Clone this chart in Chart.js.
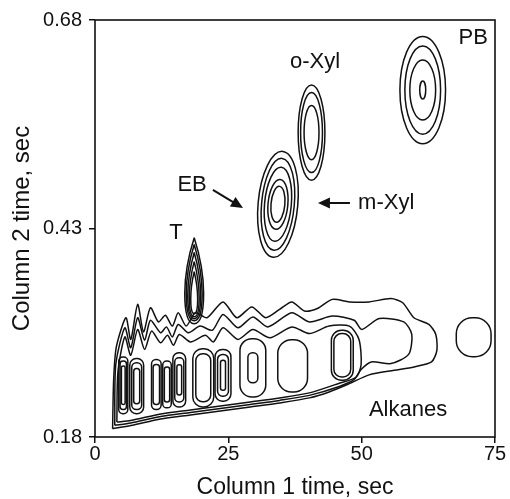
<!DOCTYPE html>
<html>
<head>
<meta charset="utf-8">
<title>Column 1 / Column 2 contour</title>
<script src="https://cdn.jsdelivr.net/npm/chart.js@4.4.1/dist/chart.umd.min.js"></script>
<style>
  html, body { margin: 0; padding: 0; background: #fff; }
  #wrap { width: 510px; height: 499px; }
</style>
</head>
<body>
<div id="wrap"><canvas id="grafico" width="510" height="499"></canvas></div>
<script>
// axis ticks
const xTicks = [0, 25, 50, 75];
const yTicks = [0.18, 0.43, 0.68];

// alkane band, outer contour (column 1 time, column 2 time)
const bandOuterX = [3.3, 3.5, 4.0, 5.8, 6.7, 8.0, 9.1, 10.4, 11.9, 13.2, 14.5, 15.6, 17.1, 18.8, 21.0, 24.0, 26.6, 29.4, 32.0, 34.6, 36.9, 39.3, 41.7, 44.5, 47.7, 51.4, 55.5, 57.7, 59.8, 62.6, 63.9, 64.1, 63.1, 59.8, 56.1, 51.4, 47.7, 43.9, 40.2, 34.6, 29.1, 23.5, 17.9, 12.3, 6.7, 3.3];
const bandOuterY = [0.190, 0.249, 0.288, 0.323, 0.297, 0.339, 0.306, 0.335, 0.318, 0.326, 0.313, 0.329, 0.313, 0.329, 0.323, 0.342, 0.323, 0.336, 0.323, 0.333, 0.342, 0.331, 0.334, 0.345, 0.342, 0.342, 0.346, 0.341, 0.323, 0.315, 0.303, 0.284, 0.270, 0.264, 0.260, 0.2545, 0.244, 0.234, 0.2269, 0.2209, 0.2161, 0.2113, 0.2065, 0.2017, 0.1937, 0.190];

// second contour
const bandMidX = [3.7, 3.9, 5.6, 6.7, 8.0, 9.3, 10.4, 12.3, 13.4, 14.5, 15.6, 17.5, 19.7, 22.0, 24.0, 26.8, 29.6, 32.4, 36.9, 40.2, 44.5, 48.6, 50.0, 53.3, 57.9, 59.4, 58.8, 55.5, 51.8, 49.9, 48.6, 45.8, 40.2, 34.6, 29.1, 23.5, 17.9, 12.3, 6.7, 3.7];
const bandMidY = [0.194, 0.267, 0.311, 0.287, 0.323, 0.296, 0.320, 0.305, 0.312, 0.300, 0.315, 0.305, 0.313, 0.308, 0.327, 0.311, 0.324, 0.312, 0.329, 0.318, 0.325, 0.320, 0.309, 0.322, 0.318, 0.303, 0.279, 0.268, 0.270, 0.261, 0.249, 0.2405, 0.2299, 0.2239, 0.2191, 0.2143, 0.2095, 0.2047, 0.1967, 0.194];

// third contour
const bandInnerX = [4.1, 4.3, 5.6, 6.7, 8.0, 9.3, 10.6, 12.3, 13.6, 14.7, 15.8, 17.9, 20.7, 22.2, 24.0, 26.8, 29.6, 32.8, 36.9, 40.2, 43.9, 47.7, 49.5, 49.9, 49.0, 45.8, 40.2, 34.6, 29.1, 23.5, 17.9, 12.3, 6.7, 4.1];
const bandInnerY = [0.198, 0.258, 0.300, 0.278, 0.309, 0.285, 0.307, 0.293, 0.302, 0.290, 0.303, 0.294, 0.302, 0.294, 0.311, 0.297, 0.309, 0.299, 0.312, 0.304, 0.313, 0.313, 0.297, 0.267, 0.252, 0.2445, 0.2329, 0.2269, 0.2221, 0.2173, 0.2125, 0.2077, 0.1997, 0.198];

// aromatic peaks: centre and half widths for each contour level
const peakNames = ['EB/m-Xyl', 'o-Xyl', 'PB'];
const peakX = [34.3, 40.6, 61.45];
const peakY = [0.459, 0.545, 0.596];
const peakRX = [[3.72, 3.07, 2.51, 1.86, 1.3], [2.51, 2.05, 1.40], [4.28, 3.35, 2.42, 0.56]];
const peakRY = [[0.0637, 0.0553, 0.0445, 0.030, 0.0216], [0.057, 0.048, 0.0325], [0.0643, 0.0529, 0.036, 0.0108]];

// toluene peak, one entry per level
const tolX = 18.6;
const tolTop = [0.419, 0.4108, 0.4012, 0.3903, 0.3783];
const tolBottom = [0.3158, 0.3194, 0.3218, 0.3242, 0.3278];
const tolRX = [1.77, 1.49, 1.21, 0.93, 0.65];

// alkane peaks inside the band, plus the lone one at the right
const alkX = [5.3, 7.82, 11.5, 13.5, 15.8, 20.3, 24.0, 29.6, 37.06, 46.37, 71.0];
const alkY = [0.242, 0.241, 0.243, 0.243, 0.2485, 0.251, 0.254, 0.263, 0.2653, 0.278, 0.2996];
const alkRX = [[0.85, 0.6, 0.35], [1.3, 0.93, 0.56], [0.9, 0.6], [0.8, 0.5], [1.2, 0.85, 0.45], [1.96, 1.4], [1.49, 1.02, 0.47], [2.42, 0.93], [2.79], [2.05, 1.58], [3.26]];
const alkRY = [[0.034, 0.029, 0.023], [0.033, 0.028, 0.021], [0.030, 0.024], [0.028, 0.021], [0.0325, 0.0264, 0.018], [0.0349, 0.0288], [0.031, 0.025, 0.018], [0.0349, 0.018], [0.0313], [0.030, 0.026], [0.0234]];

// text labels and arrows, in axis units
const notes = [
  { text: 'PB', x: 70.9, y: 0.658 },
  { text: 'o-Xyl', x: 41.25, y: 0.6296 },
  { text: 'EB', x: 18.2, y: 0.482 },
  { text: 'm-Xyl', x: 54.6, y: 0.4606 },
  { text: 'T', x: 15.2, y: 0.4246 },
  { text: 'Alkanes', x: 58.7, y: 0.2124 }
];
const arrows = [
  { from: [22.1, 0.4762], to: [27.75, 0.4546] },
  { from: [47.8, 0.4606], to: [41.8, 0.4606] }
];

const ink = '#111';
const fonte = '"Liberation Sans", Arial, Helvetica, sans-serif';
const ebTilt = 0.09;

function pontos(xs, ys) {
  return xs.map((v, i) => ({ x: v, y: ys[i] }));
}

function desenharSeta(ctx, x0, y0, x1, y1) {
  const ang = Math.atan2(y1 - y0, x1 - x0);
  const len = 12, half = 5.5;
  ctx.beginPath();
  ctx.moveTo(x0, y0);
  ctx.lineTo(x1 - Math.cos(ang) * len * 0.8, y1 - Math.sin(ang) * len * 0.8);
  ctx.lineWidth = 2;
  ctx.stroke();
  ctx.beginPath();
  ctx.moveTo(x1, y1);
  ctx.lineTo(x1 - Math.cos(ang) * len - Math.sin(ang) * half, y1 - Math.sin(ang) * len + Math.cos(ang) * half);
  ctx.lineTo(x1 - Math.cos(ang) * len + Math.sin(ang) * half, y1 - Math.sin(ang) * len - Math.cos(ang) * half);
  ctx.closePath();
  ctx.fill();
}

// peaks, labels and the frame
const contornos = {
  id: 'contornos',
  afterDatasetsDraw(chart) {
    const { ctx, chartArea, scales: { x, y } } = chart;
    ctx.save();
    ctx.beginPath();
    ctx.rect(chartArea.left, chartArea.top, chartArea.right - chartArea.left, chartArea.bottom - chartArea.top);
    ctx.clip();
    ctx.strokeStyle = ink;
    ctx.fillStyle = ink;
    ctx.lineWidth = 1.5;

    // aromatic ellipses
    peakX.forEach((cx, i) => {
      const px = x.getPixelForValue(cx);
      const py = y.getPixelForValue(peakY[i]);
      peakRX[i].forEach((rx, j) => {
        const w = x.getPixelForValue(cx + rx) - px;
        const h = py - y.getPixelForValue(peakY[i] + peakRY[i][j]);
        ctx.beginPath();
        ctx.ellipse(px, py, w, h, i === 0 ? ebTilt : 0, 0, Math.PI * 2);
        ctx.stroke();
      });
    });

    // toluene teardrops
    const tx = x.getPixelForValue(tolX);
    tolTop.forEach((top, j) => {
      const t = y.getPixelForValue(top);
      const b = y.getPixelForValue(tolBottom[j]);
      const w = x.getPixelForValue(tolX + tolRX[j]) - tx;
      const h = b - t;
      ctx.beginPath();
      ctx.moveTo(tx, t);
      ctx.bezierCurveTo(tx + w * 0.35, t + h * 0.12, tx + w, t + h * 0.35, tx + w, t + h * 0.65);
      ctx.bezierCurveTo(tx + w, t + h * 0.92, tx + w * 0.55, b, tx, b);
      ctx.bezierCurveTo(tx - w * 0.55, b, tx - w, t + h * 0.92, tx - w, t + h * 0.65);
      ctx.bezierCurveTo(tx - w, t + h * 0.35, tx - w * 0.35, t + h * 0.12, tx, t);
      ctx.stroke();
    });

    // alkane boxes
    alkX.forEach((cx, i) => {
      const px = x.getPixelForValue(cx);
      const py = y.getPixelForValue(alkY[i]);
      alkRX[i].forEach((rx, j) => {
        const w = x.getPixelForValue(cx + rx) - px;
        const h = py - y.getPixelForValue(alkY[i] + alkRY[i][j]);
        ctx.beginPath();
        ctx.roundRect(px - w, py - h, w * 2, h * 2, Math.min(w, h) * 0.92);
        ctx.stroke();
      });
    });
    ctx.restore();

    // labels and arrows
    ctx.save();
    ctx.fillStyle = ink;
    ctx.strokeStyle = ink;
    ctx.font = '22px ' + fonte;
    ctx.textAlign = 'center';
    ctx.textBaseline = 'middle';
    notes.forEach(n => {
      ctx.fillText(n.text, x.getPixelForValue(n.x), y.getPixelForValue(n.y));
    });
    arrows.forEach(a => {
      desenharSeta(ctx,
        x.getPixelForValue(a.from[0]), y.getPixelForValue(a.from[1]),
        x.getPixelForValue(a.to[0]), y.getPixelForValue(a.to[1]));
    });

    // frame round the plot
    ctx.lineWidth = 1.6;
    ctx.strokeRect(chartArea.left, chartArea.top, chartArea.right - chartArea.left, chartArea.bottom - chartArea.top);
    ctx.restore();
  }
};

const linha = {
  showLine: true,
  fill: false,
  borderColor: ink,
  borderWidth: 1.5,
  pointRadius: 0,
  tension: 0.25
};

new Chart(document.getElementById('grafico'), {
  type: 'scatter',
  data: {
    datasets: [
      Object.assign({ label: 'band outer', data: pontos(bandOuterX, bandOuterY) }, linha),
      Object.assign({ label: 'band mid', data: pontos(bandMidX, bandMidY) }, linha),
      Object.assign({ label: 'band inner', data: pontos(bandInnerX, bandInnerY) }, linha)
    ]
  },
  options: {
    responsive: false,
    animation: false,
    devicePixelRatio: 1,
    layout: { padding: { left: 0, right: 15, top: 20, bottom: 0 } },
    plugins: { legend: { display: false }, tooltip: { enabled: false } },
    scales: {
      x: {
        type: 'linear',
        min: 0,
        max: 75,
        afterBuildTicks: s => { s.ticks = xTicks.map(v => ({ value: v })); },
        afterFit: s => { s.height = 62; },
        ticks: { color: ink, font: { family: fonte, size: 20, lineHeight: 1 }, padding: 1, maxRotation: 0, callback: v => String(v) },
        grid: { drawOnChartArea: false, drawTicks: true, tickLength: 6, color: ink, lineWidth: 1.5 },
        border: { display: false },
        title: { display: true, text: 'Column 1 time, sec', color: ink, font: { family: fonte, size: 23, lineHeight: 1 }, padding: 0 }
      },
      y: {
        type: 'linear',
        min: 0.18,
        max: 0.68,
        afterBuildTicks: s => { s.ticks = yTicks.map(v => ({ value: v })); },
        afterFit: s => { s.width = 95; },
        ticks: { color: ink, font: { family: fonte, size: 20 }, padding: 7, callback: v => v.toFixed(2) },
        grid: { drawOnChartArea: false, drawTicks: true, tickLength: 6, color: ink, lineWidth: 1.5 },
        border: { display: false },
        title: { display: true, text: 'Column 2 time, sec', color: ink, font: { family: fonte, size: 24, lineHeight: 1.2 }, padding: { top: 8, bottom: 0 } }
      }
    }
  },
  plugins: [contornos]
});
</script>
</body>
</html>
